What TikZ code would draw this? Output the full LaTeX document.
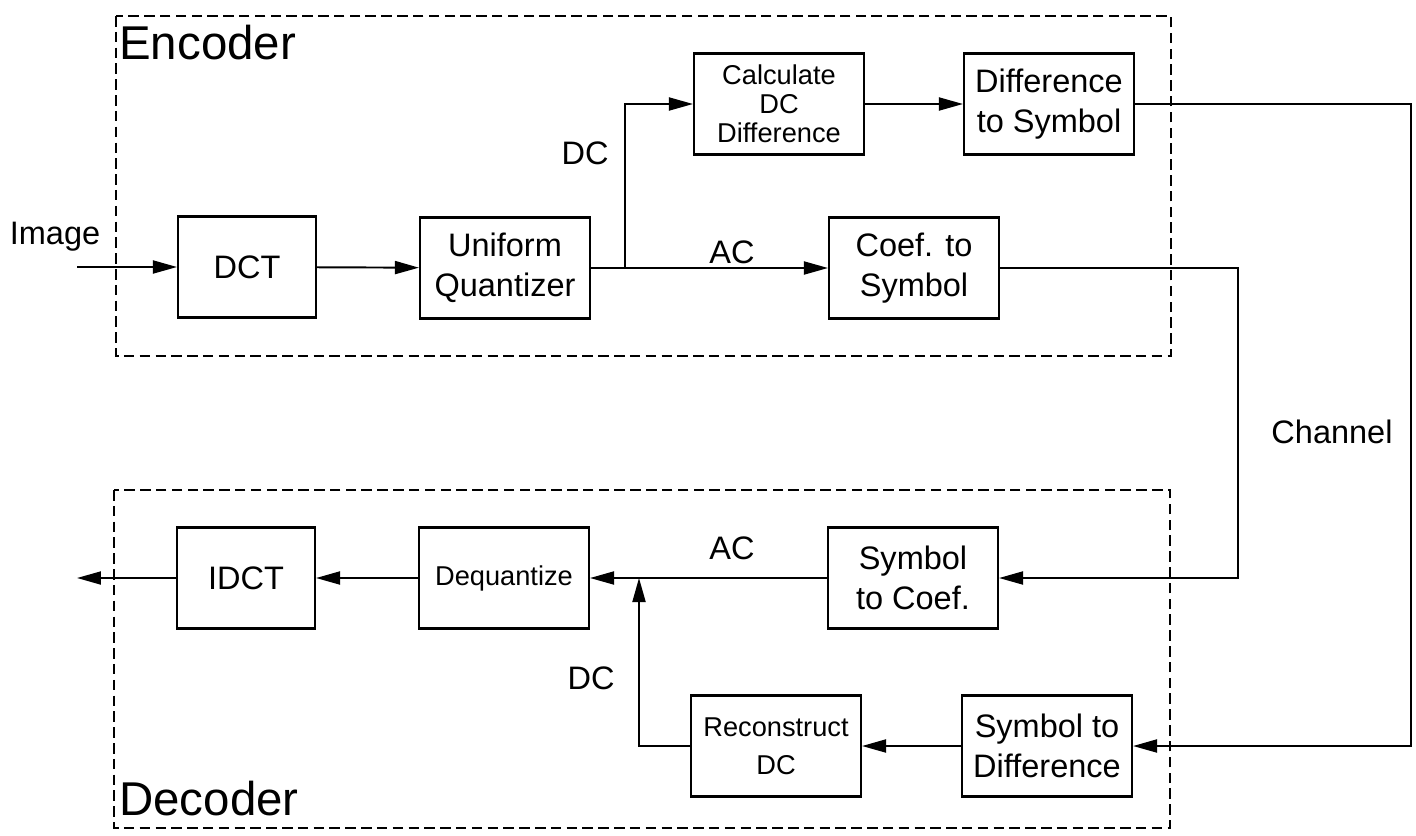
\documentclass[tikz,border=0pt]{standalone}
\usepackage{fontspec}
\setmainfont{Liberation Sans}
\usetikzlibrary{arrows.meta}

\begin{document}
\begin{tikzpicture}[x=0.02cm, y=-0.02cm,
    block/.style={draw, line width=1.2pt, align=center, inner sep=2pt,
        minimum width=3.4cm, minimum height=2.02cm,
        font=\fontsize{18.5}{23}\selectfont},
    smallblock/.style={block, font=\fontsize{15.5}{16.5}\selectfont},
    narrowblock/.style={block, minimum width=2.76cm},
    lbl/.style={font=\fontsize{18.5}{22}\selectfont, inner sep=0pt},
    title/.style={font=\fontsize{27}{30}\selectfont, inner sep=0pt, anchor=west},
    frame/.style={draw, line width=0.9pt, dash pattern=on 6pt off 3pt},
    flow/.style={line width=1.1pt, -{Triangle[length=0.48cm,width=0.26cm]}},
    wire/.style={line width=1.1pt}
]
\useasboundingbox (0,0) rectangle (1416,835);

% dashed frames
\draw[frame] (116,16) rectangle (1171,356);
\draw[frame] (114,490) rectangle (1170,828);
\node[title] (enc) at (119,43) {Encoder};
\node[title] (dec) at (119,799) {Decoder};

% encoder
\node[narrowblock] (dct) at (247,267) {DCT};
\node[block] (quant) at (505,268) {Uniform\\Quantizer};
\node[smallblock] (calc) at (779,104) {Calculate\\DC\\Difference};
\node[block] (dsym) at (1049,104) {Difference\\to Symbol};
\node[block] (csym) at (914,268) {Coef. to\\Symbol};

% decoder
\node[narrowblock] (idct) at (246,578) {IDCT};
\node[smallblock] (deq) at (504,578) {Dequantize};
\node[block] (scoef) at (913,578) {Symbol\\to Coef.};
\node[smallblock, font=\fontsize{15.5}{21.5}\selectfont] (recdc) at (776,746) {Reconstruct\\DC};
\node[block] (sdiff) at (1047,746) {Symbol to\\Difference};

% free ends and corners
\coordinate (in) at (77,267);
\coordinate (out) at (77,578);
\coordinate (br) at (625,268);
\coordinate (jn) at (639,578);
\coordinate (chdc) at (1411,104);
\coordinate (chac) at (1238,268);

% labels
\node[lbl] (limg) at (55,237) {Image};
\node[lbl] (ldc1) at (585,153) {DC};
\node[lbl] (lac1) at (732,252) {AC};
\node[lbl] (lch) at (1332,432) {Channel};
\node[lbl] (lac2) at (732,548) {AC};
\node[lbl] (ldc2) at (591,678) {DC};

% encoder connections
\draw[flow] (in) -- (dct);
\draw[flow] (dct) -- (quant);
\draw[flow] (quant) -- (csym);
\draw[flow] (br) |- (calc);
\draw[flow] (calc) -- (dsym);

% channel
\draw[flow] (dsym) -- (chdc) |- (sdiff);
\draw[flow] (csym) -- (chac) |- (scoef);

% decoder connections
\draw[flow] (scoef) -- (deq);
\draw[flow] (sdiff) -- (recdc);
\draw[flow] (recdc) -| (jn);
\draw[flow] (deq) -- (idct);
\draw[flow] (idct) -- (out);
\end{tikzpicture}
\end{document}
